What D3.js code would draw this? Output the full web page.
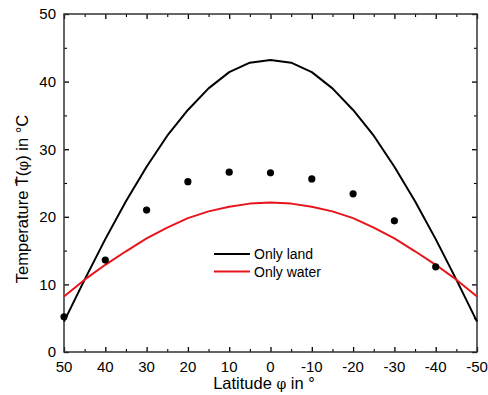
<!DOCTYPE html>
<html><head><meta charset="utf-8">
<script src="https://cdn.jsdelivr.net/npm/d3@7"></script>
<style>body{margin:0;background:#fff}svg{display:block}</style>
</head><body>
<svg id="c" width="488" height="395"></svg>
<script>
const lat = [50,45,40,35,30,25,20,15,10,5,0,-5,-10,-15,-20,-25,-30,-35,-40,-45,-50];
const landT = [4.5,10.7,16.7,22.3,27.4,32.0,35.8,39.0,41.4,42.8,43.2,42.8,41.4,39.0,35.8,32.0,27.4,22.3,16.7,10.7,4.5];
const waterT = [8.2,10.7,12.9,14.9,16.8,18.4,19.8,20.8,21.5,21.95,22.1,21.95,21.5,20.8,19.8,18.4,16.8,14.9,12.9,10.7,8.2];
const obsLat = [50,40,30,20,10,0,-10,-20,-30,-40];
const obsT = [5.2,13.6,21.0,25.2,26.6,26.5,25.6,23.4,19.4,12.6];
const xTicks = [50,40,30,20,10,0,-10,-20,-30,-40,-50];
const yTicks = [0,10,20,30,40,50];
const legendNames = ["Only land","Only water"];
const colors = ["#000000","#e8141c"];

const L=64, R=477, T=14, B=352;
const svg = d3.select("#c");
const x = d3.scaleLinear().domain([50,-50]).range([L,R]);
const y = d3.scaleLinear().domain([0,50]).range([B,T]);
const font = "'Liberation Sans', Arial, sans-serif";

// ticks inward on all sides
const xMinor = d3.range(45,-50,-10);
const yMinor = d3.range(5,50,10);
function axisSet(axisFn, scale, major, minor, transform){
  svg.append("g").attr("transform",transform)
    .call(axisFn(scale).tickValues(major).tickSize(-5).tickFormat(""))
    .call(g=>{g.select(".domain").remove(); g.selectAll("line").attr("stroke","#000").attr("stroke-width",1.3);});
  svg.append("g").attr("transform",transform)
    .call(axisFn(scale).tickValues(minor).tickSize(-3).tickFormat(""))
    .call(g=>{g.select(".domain").remove(); g.selectAll("line").attr("stroke","#000").attr("stroke-width",1.1);});
}
axisSet(d3.axisBottom, x, xTicks, xMinor, `translate(0,${B})`);
axisSet(d3.axisTop, x, xTicks, xMinor, `translate(0,${T})`);
axisSet(d3.axisLeft, y, yTicks, yMinor, `translate(${L},0)`);
axisSet(d3.axisRight, y, yTicks, yMinor, `translate(${R},0)`);

// tick labels
svg.append("g").selectAll("text").data(xTicks).join("text")
  .attr("x",d=>x(d)).attr("y",B+19.5).attr("text-anchor","middle")
  .attr("font-family",font).attr("font-size",15).attr("fill","#000").text(d=>d);
svg.append("g").selectAll("text").data(yTicks).join("text")
  .attr("x",L-8).attr("y",d=>y(d)+5.3).attr("text-anchor","end")
  .attr("font-family",font).attr("font-size",15).attr("fill","#000").text(d=>d);

// frame
svg.append("rect").attr("x",L).attr("y",T).attr("width",R-L).attr("height",B-T)
  .attr("fill","none").attr("stroke","#333").attr("stroke-width",1.5);

// lines
const line = d3.line().x(d=>x(d[0])).y(d=>y(d[1]));
svg.append("path").datum(d3.zip(lat,landT)).attr("d",line)
  .attr("fill","none").attr("stroke",colors[0]).attr("stroke-width",2).attr("stroke-linejoin","round");
svg.append("path").datum(d3.zip(lat,waterT)).attr("d",line)
  .attr("fill","none").attr("stroke",colors[1]).attr("stroke-width",2).attr("stroke-linejoin","round");

// dots
svg.append("g").selectAll("circle").data(d3.zip(obsLat,obsT)).join("circle")
  .attr("cx",d=>x(d[0])).attr("cy",d=>y(d[1])).attr("r",3.6).attr("fill","#000");

// legend
const lg = svg.append("g");
legendNames.forEach((n,i)=>{
  const yy = 254 + i*17.5;
  lg.append("line").attr("x1",214).attr("x2",250).attr("y1",yy).attr("y2",yy)
    .attr("stroke",colors[i]).attr("stroke-width",2);
  lg.append("text").attr("x",254).attr("y",yy+5).attr("font-family",font)
    .attr("font-size",14).attr("fill","#000").text(n);
});

// axis titles
const xt = svg.append("text").attr("x",264).attr("y",389).attr("text-anchor","middle")
  .attr("font-family",font).attr("font-size",16.5).attr("fill","#000");
xt.append("tspan").text("Latitude ");
xt.append("tspan").attr("font-size",14).attr("font-family","'DejaVu Serif', serif").text("φ");
xt.append("tspan").text(" in °");

const yt = svg.append("text").attr("transform","translate(28,199) rotate(-90)").attr("text-anchor","middle")
  .attr("font-family",font).attr("font-size",16.5).attr("fill","#000");
yt.append("tspan").text("Temperature T\u0304(");
yt.append("tspan").attr("font-size",14).attr("font-family","'DejaVu Serif', serif").text("φ");
yt.append("tspan").text(") in °C");
</script>
</body></html>
